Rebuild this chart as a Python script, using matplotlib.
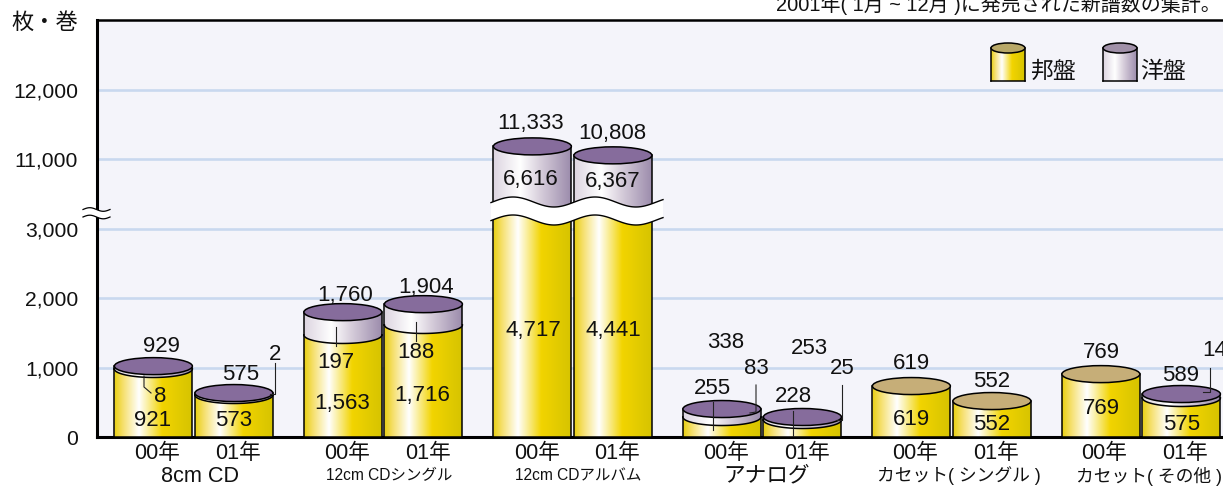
#!/usr/bin/env python3
# -*- coding: utf-8 -*-
import numpy as np
import matplotlib
matplotlib.use("Agg")
import matplotlib.pyplot as plt
from matplotlib.colors import LinearSegmentedColormap
from matplotlib.patches import Ellipse, Polygon
from matplotlib.transforms import Affine2D

plt.rcParams['font.family'] = ['Liberation Sans', 'Noto Sans CJK JP', 'DejaVu Sans']

W, H = 1223, 486

categories = ["8cm CD", "12cm CDシングル", "12cm CDアルバム", "アナログ", "カセット( シングル )", "カセット( その他 )"]
years = ["00年", "01年"]
ytick_values = [0, 1000, 2000, 3000, 11000, 12000]

domestic_00 = [921, 1563, 4717, 255, 619, 769]
foreign_00 = [8, 197, 6616, 83, 0, 0]
total_00 = [929, 1760, 11333, 338, 619, 769]
domestic_01 = [573, 1716, 4441, 228, 552, 575]
foreign_01 = [2, 188, 6367, 25, 0, 14]
total_01 = [575, 1904, 10808, 253, 552, 589]

# the cylinders in the picture do not sit exactly on their numbers,
# so these are the heights read against the axis
top_level_00 = [1021, 1799, 11187, 403, 734, 906]
split_level_00 = [980, 1470, 8145, 288, 734, 906]
top_level_01 = [633, 1914, 11058, 288, 518, 619]
split_level_01 = [605, 1614, 8145, 245, 518, 562]

yellow = LinearSegmentedColormap.from_list("y", [(0, "#e8cf10"), (0.12, "#f6e070"), (0.32, "#ffffff"),
                                                 (0.62, "#f2d400"), (1, "#d6c400")])
lilac = LinearSegmentedColormap.from_list("p", [(0, "#dcd4e0"), (0.35, "#ffffff"), (0.6, "#d8cfdc"),
                                                (1, "#9c8cac")])
CAP_PURPLE = "#866c9c"
CAP_TAN = "#c6ae78"

knots_in = [0, 3000, 10500, 13008]
knots_out = [0, 3000, 3500, 6008]


def forward(v):
    return np.interp(v, knots_in, knots_out)


def inverse(v):
    return np.interp(v, knots_out, knots_in)


fig = plt.figure(figsize=(W / 100, H / 100), dpi=100)
ax = fig.add_axes([97 / W, (H - 437) / H, (W - 97) / W, 417 / H])
ax.set_yscale('function', functions=(forward, inverse))
ax.set_xlim(-0.51, 5.432)
ax.set_ylim(0, 13008)
ax.set_autoscale_on(False)
ax.set_facecolor("#f4f4fa")
ax.set_yticks(ytick_values, [f"{v:,}" for v in ytick_values], fontsize=15.2, color="#111111")
ax.set_xticks([])
ax.minorticks_off()
ax.tick_params(axis='y', length=0, pad=13.5)
ax.yaxis.grid(True, color="#c9d8ef", linewidth=1.9)
ax.set_axisbelow(True)
ax.spines['right'].set_visible(False)
ax.spines['left'].set_linewidth(2.2)
ax.spines['bottom'].set_linewidth(2.2)
ax.spines['top'].set_linewidth(1.8)

# pixel coordinates of the finished image, y going down
px = Affine2D().scale(1, -1).translate(0, H)


def arc(xc, y, a, b):
    t = np.linspace(np.pi, 0, 60)
    return np.column_stack([xc + a * np.cos(t), y + b * np.sin(t)])


def body(xc, y_low, y_high, a, b, cmap, z, flat_bottom=False):
    if flat_bottom:
        low = [[xc + a, y_low], [xc - a, y_low]]
    else:
        low = arc(xc, y_low, a, b)[::-1]
    outline = np.vstack([arc(xc, y_high, a, b), low])
    clip = Polygon(outline, closed=True, transform=px, facecolor='none', edgecolor='none', zorder=z)
    ax.add_patch(clip)
    im = ax.imshow(np.linspace(0, 1, 256).reshape(1, -1), cmap=cmap, aspect='auto', transform=px,
                   extent=(xc - a, xc + a, y_low + b + 2, y_high - 2), zorder=z, interpolation='bilinear')
    im.set_clip_path(clip)
    ax.plot([xc - a, xc - a], [y_low, y_high], color='black', lw=1.1, transform=px, zorder=z + 0.1)
    ax.plot([xc + a, xc + a], [y_low, y_high], color='black', lw=1.1, transform=px, zorder=z + 0.1)
    if flat_bottom:
        ax.plot([xc - a, xc + a], [y_low, y_low], color='black', lw=1.1, transform=px, zorder=z + 0.1)


def cylinder(xc, y_base, y_split, y_top, z, cap, a=39, b=8.5, base_cmap=yellow):
    body(xc, y_base, y_split, a, b, base_cmap, z, flat_bottom=True)
    if y_top < y_split:
        body(xc, y_split, y_top, a, b, lilac, z + 0.2)
        line = arc(xc, y_split, a, b)
        ax.plot(line[:, 0], line[:, 1], color='black', lw=1.1, transform=px, zorder=z + 0.3)
    ax.add_patch(Ellipse((xc, y_top), 2 * a, 2 * b, facecolor=cap, edgecolor='black', lw=1.1,
                         transform=px, zorder=z + 0.4))


def to_pixel(x, level):
    p = ax.transData.transform((x, level))
    return p[0], H - p[1]


for i in range(len(categories)):
    series = [(i - 0.2125, top_level_00[i], split_level_00[i], foreign_00[i]),
              (i + 0.2125, top_level_01[i], split_level_01[i], foreign_01[i])]
    for j, (x, top, split, foreign) in enumerate(series):
        xc, y_top = to_pixel(x, top)
        _, y_split = to_pixel(x, split)
        _, y_base = to_pixel(x, 0)
        cap = CAP_PURPLE if foreign > 0 else CAP_TAN
        cylinder(xc, y_base, y_split, y_top, 3 + i + j * 0.5, cap)

# break across the album bars
xs = np.linspace(491, 663, 120)
wave = 202 - 5 * np.cos(2 * np.pi * (xs - 513) / 82)
ax.add_patch(Polygon(np.vstack([np.column_stack([xs, wave]), np.column_stack([xs, wave + 18])[::-1]]),
                     closed=True, facecolor='white', edgecolor='none', transform=px, zorder=12))
ax.plot(xs, wave, color='black', lw=1.0, transform=px, zorder=12.1)
ax.plot(xs, wave + 18, color='black', lw=1.0, transform=px, zorder=12.1)

# break on the y axis
xs = np.linspace(83, 110, 40)
wave = 209.5 - 1.8 * np.sin(2 * np.pi * (xs - 83) / 27)
ax.add_patch(Polygon(np.vstack([np.column_stack([xs, wave]), np.column_stack([xs, wave + 7.5])[::-1]]),
                     closed=True, facecolor='white', edgecolor='none', transform=px, zorder=30, clip_on=False))
ax.plot(xs, wave, color='black', lw=0.9, transform=px, zorder=31, clip_on=False)
ax.plot(xs, wave + 7.5, color='black', lw=0.9, transform=px, zorder=31, clip_on=False)

# leader lines
leaders = [[(144, 376), (144, 387), (151, 393)], [(275, 363), (275, 394), (270, 394)],
           [(336, 327), (336, 346)], [(416, 322), (416, 341)],
           [(713, 402), (713, 430)], [(793, 411), (793, 437)],
           [(756, 385), (756, 412), (750, 413)], [(842, 385), (842, 420), (836, 420)],
           [(1210, 368), (1210, 392), (1203, 392)]]
for pts in leaders:
    pts = np.array(pts)
    ax.plot(pts[:, 0], pts[:, 1], color='#222222', lw=0.8, transform=px, zorder=14)


def label(x, y, s, size=16, **kw):
    kw.setdefault('ha', 'center')
    kw.setdefault('va', 'center')
    fig.text(x / W, 1 - y / H, s, fontsize=size, color='#111111', zorder=40, **kw)


value_places = [
    (total_00[0], 161, 346), (total_01[0], 241, 374), (foreign_01[0], 275, 354), (foreign_00[0], 160, 396),
    (domestic_00[0], 153, 420), (domestic_01[0], 234, 420),
    (total_00[1], 345, 295), (total_01[1], 426, 288), (foreign_00[1], 336, 362), (foreign_01[1], 416, 353),
    (domestic_00[1], 342, 403), (domestic_01[1], 422, 395),
    (total_00[2], 531, 124), (total_01[2], 612, 133), (foreign_00[2], 531, 179), (foreign_01[2], 613, 181),
    (domestic_00[2], 533, 330), (domestic_01[2], 613, 330),
    (total_00[3], 726, 343), (total_01[3], 809, 348), (foreign_00[3], 756, 368), (foreign_01[3], 842, 368),
    (domestic_00[3], 712, 388), (domestic_01[3], 793, 396),
    (total_00[4], 911, 363), (total_01[4], 992, 381), (domestic_00[4], 911, 419), (domestic_01[4], 992, 425),
    (total_00[5], 1101, 353), (total_01[5], 1181, 375), (foreign_01[5], 1215, 350),
    (domestic_00[5], 1101, 408), (domestic_01[5], 1182, 425),
]
for v, x, y in value_places:
    label(x, y, f"{v:,}")

year_x = [157, 238, 347, 428, 537, 617, 726, 807, 915, 996, 1104, 1185]
for n, x in enumerate(year_x):
    label(x, 453, years[n % 2], size=15.6)

cat_x = [200, 389, 578, 767, 959, 1149]
cat_size = [15.6, 11.2, 11.2, 15.6, 12.8, 12.8]
for name, x, size in zip(categories, cat_x, cat_size):
    label(x, 476, name, size=size)

label(45, 23, "枚・巻", size=16)
label(776, 11, "2001年( 1月 ~ 12月 )に発売された新譜数の集計。", size=14.4, ha='left', va='baseline')

# legend
cylinder(1008, 81, 48, 48, 15, "#b8a868", a=17, b=5)
cylinder(1120, 81, 48, 48, 15, "#a090a8", a=17, b=5, base_cmap=lilac)
label(1053, 71, "邦盤", size=16.5)
label(1163, 71, "洋盤", size=16.5)

fig.savefig("out.png", dpi=100)
